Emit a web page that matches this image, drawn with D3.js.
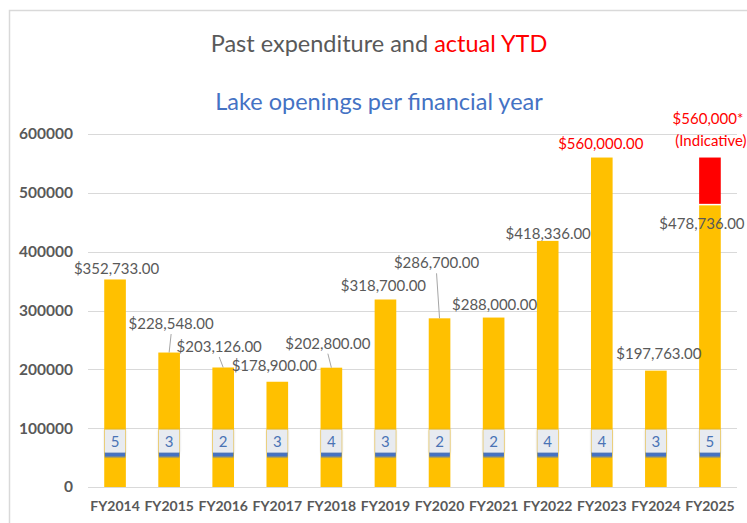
<!DOCTYPE html>
<html>
<head>
<meta charset="utf-8">
<script src="https://cdn.jsdelivr.net/npm/d3@7"></script>
<style>
  html, body { margin: 0; padding: 0; background: #fff; }
  svg { display: block; }
</style>
</head>
<body>
<svg id="chart" width="747" height="523"></svg>
<script>
// Financial years and spend per year
const years = ["FY2014","FY2015","FY2016","FY2017","FY2018","FY2019","FY2020","FY2021","FY2022","FY2023","FY2024","FY2025"];
const expenditure = [352733, 228548, 203126, 178900, 202800, 318700, 286700, 288000, 418336, 560000, 197763, 478736];
// Indicative full-year total for the current year (actual YTD + remainder)
const indicativeTotal = 560000;
// Lake openings per financial year
const openings = [5, 3, 2, 3, 4, 3, 2, 2, 4, 4, 3, 5];
const yTicks = [0, 100000, 200000, 300000, 400000, 500000, 600000];

// Label placement tweaks (dx, dy from the top of each bar) and whether a leader line is drawn
const labelLayout = [
  [1.5, -5.5, false], [2, -23.5, true], [-4, -15.5, true], [-3, -11, false],
  [-3.5, -19, true], [-2, -8.5, false], [-3, -50, true], [1, -7.5, false],
  [0.5, -2, false], [-1, -8.6, false], [3, -12, false], [-8, 23.5, false]
];

const svg = d3.select("#chart");
const FONT = "Lato, 'Open Sans', sans-serif";
const GREY = "#595959";
const RED = "#ff0000";
const GOLD = "#ffc000";
const BLUE = "#4472c4";

// Chart frame
svg.append("rect")
  .attr("x", 9.5).attr("y", 10.5)
  .attr("width", 760).attr("height", 540)
  .attr("fill", "none").attr("stroke", "#d9d9d9").attr("stroke-width", 1.5);

const x = d3.scaleBand().domain(years).range([88, 737]).padding(0);
const y = d3.scaleLinear().domain([0, 600000]).range([487, 134]);
const barW = x.bandwidth() * 0.4;
const cx = d => x(d) + x.bandwidth() / 2;

// Titles
const title = svg.append("text")
  .attr("x", 379).attr("y", 52)
  .attr("text-anchor", "middle")
  .attr("font-family", FONT).attr("font-size", 23.5)
  .attr("fill", GREY);
title.append("tspan").text("Past expenditure and ");
title.append("tspan").attr("fill", RED).text("actual YTD");

svg.append("text")
  .attr("x", 379).attr("y", 110)
  .attr("text-anchor", "middle")
  .attr("font-family", FONT).attr("font-size", 23.5)
  .attr("fill", BLUE)
  .text("Lake openings per financial year");

// Gridlines
svg.append("g")
  .selectAll("line")
  .data(yTicks)
  .join("line")
  .attr("x1", 88).attr("x2", 737)
  .attr("y1", d => Math.round(y(d)) + 0.5)
  .attr("y2", d => Math.round(y(d)) + 0.5)
  .attr("stroke", "#d9d9d9").attr("stroke-width", 1);

// Y axis labels
const yAxis = svg.append("g")
  .attr("transform", "translate(88,0)")
  .call(d3.axisLeft(y).tickValues(yTicks).tickFormat(d3.format("d")).tickSize(0).tickPadding(15));
yAxis.select(".domain").remove();
yAxis.selectAll("text")
  .attr("font-family", FONT).attr("font-size", 15.5).attr("font-weight", "bold")
  .attr("fill", GREY);

// X axis labels
const xAxis = svg.append("g")
  .attr("transform", "translate(0,487)")
  .call(d3.axisBottom(x).tickSize(0).tickPadding(14));
xAxis.select(".domain").remove();
xAxis.selectAll("text")
  .attr("font-family", FONT).attr("font-size", 14).attr("font-weight", "bold")
  .attr("fill", GREY);

// Expenditure bars
svg.append("g")
  .selectAll("rect")
  .data(years)
  .join("rect")
  .attr("x", d => cx(d) - barW / 2)
  .attr("width", barW)
  .attr("y", (d, i) => y(expenditure[i]))
  .attr("height", (d, i) => y(0) - y(expenditure[i]))
  .attr("fill", GOLD);

// Indicative remainder for the current year
const last = years.length - 1;
svg.append("rect")
  .attr("x", cx(years[last]) - barW / 2)
  .attr("width", barW)
  .attr("y", y(indicativeTotal))
  .attr("height", y(expenditure[last]) - y(indicativeTotal) - 1.5)
  .attr("fill", RED);

// Value labels and leader lines
const fmt = d3.format("$,.2f");
const labels = svg.append("g");
years.forEach((yr, i) => {
  const [dx, dy, leader] = labelLayout[i];
  const top = y(expenditure[i]);
  const lx = cx(yr) + dx;
  const ly = top + dy;
  if (leader) {
    labels.append("line")
      .attr("x1", lx).attr("y1", ly + 5)
      .attr("x2", cx(yr)).attr("y2", top)
      .attr("stroke", "#a6a6a6").attr("stroke-width", 1);
  }
  labels.append("text")
    .attr("x", lx).attr("y", ly)
    .attr("text-anchor", "middle")
    .attr("font-family", FONT).attr("font-size", 15)
    .attr("fill", expenditure[i] === d3.max(expenditure) && i !== last ? RED : GREY)
    .text(fmt(expenditure[i]));
});

// Indicative total label
const ind = labels.append("text")
  .attr("text-anchor", "middle")
  .attr("font-family", FONT).attr("font-size", 15)
  .attr("fill", RED);
ind.append("tspan").attr("x", cx(years[last]) - 2).attr("y", y(indicativeTotal) - 34)
  .text(d3.format("$,")(indicativeTotal) + "*");
ind.append("tspan").attr("x", cx(years[last]) + 1).attr("y", y(indicativeTotal) - 12)
  .text("(Indicative)");

// Lake openings markers
const markerBase = y(50000);
const defs = svg.append("defs");
const grad = defs.append("linearGradient").attr("id", "blueFade")
  .attr("x1", 0).attr("y1", 0).attr("x2", 0).attr("y2", 1);
grad.append("stop").attr("offset", "0%").attr("stop-color", BLUE);
grad.append("stop").attr("offset", "60%").attr("stop-color", BLUE);
grad.append("stop").attr("offset", "100%").attr("stop-color", BLUE).attr("stop-opacity", 0);
const shadow = defs.append("filter").attr("id", "boxShadow")
  .attr("x", "-30%").attr("y", "-30%").attr("width", "160%").attr("height", "160%");
shadow.append("feDropShadow").attr("dx", 0).attr("dy", 0).attr("stdDeviation", 1)
  .attr("flood-color", "#7f7f7f").attr("flood-opacity", 0.5);

const markers = svg.append("g")
  .selectAll("g")
  .data(years)
  .join("g")
  .attr("transform", d => `translate(${cx(d)},${markerBase})`);
markers.append("rect")
  .attr("x", -barW / 2 + 0.5).attr("width", barW - 1)
  .attr("y", -6).attr("height", 7)
  .attr("fill", "url(#blueFade)");
markers.append("rect")
  .attr("x", -barW / 2 + 0.5).attr("width", barW - 1)
  .attr("y", -28).attr("height", 23)
  .attr("fill", "#e8ebf0")
  .attr("filter", "url(#boxShadow)");
markers.append("text")
  .attr("y", -11)
  .attr("text-anchor", "middle")
  .attr("font-family", FONT).attr("font-size", 15)
  .attr("fill", "#4a73b5")
  .text((d, i) => openings[i]);
</script>
</body>
</html>
